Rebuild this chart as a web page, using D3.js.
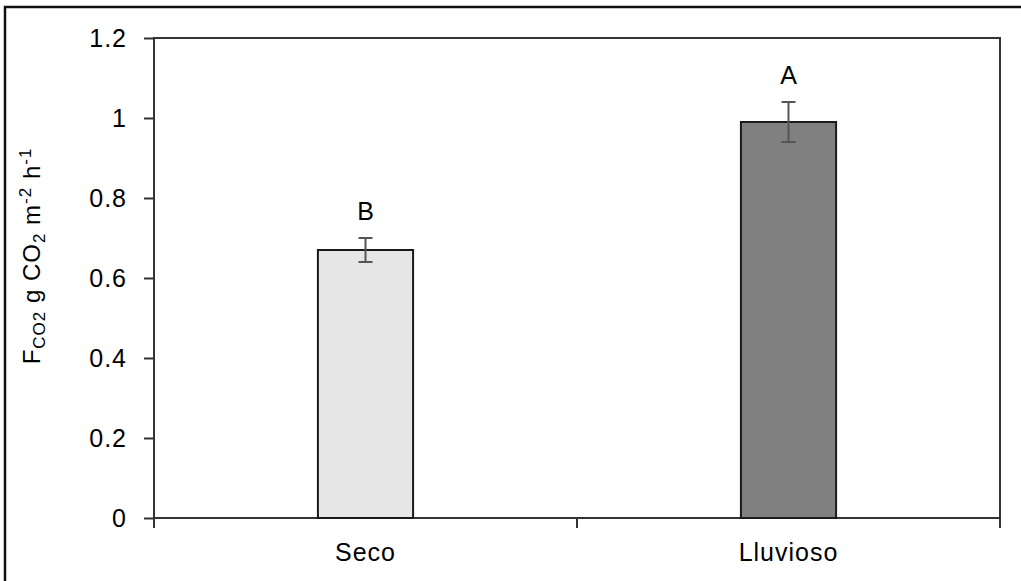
<!DOCTYPE html>
<html>
<head>
<meta charset="utf-8">
<script src="https://cdn.jsdelivr.net/npm/d3@7"></script>
<style>
  body { margin: 0; background: #fff; }
  text { font-family: "Liberation Sans", Arial, sans-serif; fill: #000; }
</style>
</head>
<body>
<div class="canvas"></div>
<script>
// data
const categories = ["Seco", "Lluvioso"];
const values = [0.67, 0.99];
const errors = [0.03, 0.05];
const letters = ["B", "A"];
const fills = ["#e6e6e6", "#808080"];
const yTicks = [0, 0.2, 0.4, 0.6, 0.8, 1, 1.2];

const width = 1021;
const height = 581;
const margin = { top: 38, right: 21, bottom: 63, left: 154 };
const graphWidth = width - margin.left - margin.right;
const graphHeight = height - margin.top - margin.bottom;

const svg = d3
  .select(".canvas")
  .append("svg")
  .attr("width", width)
  .attr("height", height);

// outer frame (only left and top visible)
svg.append("path")
  .attr("d", `M5,${height} V7 H${width}`)
  .attr("fill", "none")
  .attr("stroke", "#111")
  .attr("stroke-width", 2.5);

const graph = svg
  .append("g")
  .attr("transform", `translate(${margin.left}, ${margin.top})`);

//scales
const x = d3.scaleBand().domain(categories).range([0, graphWidth])
  .paddingInner(0.775).paddingOuter(0.3875);
const y = d3.scaleLinear().domain([0, 1.2]).range([graphHeight, 0]);

// plot box
graph.append("rect")
  .attr("width", graphWidth)
  .attr("height", graphHeight)
  .attr("fill", "none")
  .attr("stroke", "#333")
  .attr("stroke-width", 2);

// bars
graph.selectAll(".bar")
  .data(categories)
  .enter()
  .append("rect")
  .attr("class", "bar")
  .attr("x", d => x(d))
  .attr("y", (d, i) => y(values[i]))
  .attr("width", x.bandwidth())
  .attr("height", (d, i) => graphHeight - y(values[i]))
  .attr("fill", (d, i) => fills[i])
  .attr("stroke", "#1a1a1a")
  .attr("stroke-width", 2);

// error bars
const cap = 7;
categories.forEach((c, i) => {
  const cx = x(c) + x.bandwidth() / 2;
  const lo = y(values[i] - errors[i]);
  const hi = y(values[i] + errors[i]);
  graph.append("path")
    .attr("d", `M${cx},${lo} V${hi} M${cx - cap},${hi} H${cx + cap} M${cx - cap},${lo} H${cx + cap}`)
    .attr("fill", "none")
    .attr("stroke", "#555")
    .attr("stroke-width", 2);

  graph.append("text")
    .attr("x", cx)
    .attr("y", hi - 18)
    .attr("text-anchor", "middle")
    .attr("font-size", 25)
    .text(letters[i]);
});

// axes
const yAxis = d3.axisLeft(y).tickValues(yTicks).tickSize(10).tickPadding(17)
  .tickFormat(d => d3.format("")(+d.toFixed(1)));
const yAxisGroup = graph.append("g").call(yAxis);
yAxisGroup.select(".domain").remove();
yAxisGroup.selectAll("line").attr("stroke", "#333").attr("stroke-width", 2);
yAxisGroup.selectAll("text").attr("font-size", 25).attr("fill", "#000")
  .attr("letter-spacing", 1)
  .style("font-family", '"Liberation Sans", Arial, sans-serif');

// x ticks at band boundaries
const bounds = [0, graphWidth / 2, graphWidth];
graph.selectAll(".xtick")
  .data(bounds)
  .enter()
  .append("line")
  .attr("x1", d => d).attr("x2", d => d)
  .attr("y1", graphHeight).attr("y2", graphHeight + 10)
  .attr("stroke", "#333")
  .attr("stroke-width", 2);

graph.selectAll(".xlabel")
  .data(categories)
  .enter()
  .append("text")
  .attr("x", d => x(d) + x.bandwidth() / 2)
  .attr("y", graphHeight + 43)
  .attr("text-anchor", "middle")
  .attr("font-size", 25)
  .attr("letter-spacing", 1)
  .text(d => d);

// y label
const ylab = svg.append("text")
  .attr("transform", `translate(40, ${margin.top + graphHeight / 2 - 22}) rotate(-90)`)
  .attr("text-anchor", "middle")
  .attr("font-size", 24)
  .attr("letter-spacing", 1);
ylab.append("tspan").text("F");
ylab.append("tspan").attr("font-size", 17).attr("baseline-shift", "-5").text("CO2");
ylab.append("tspan").text(" g CO");
ylab.append("tspan").attr("font-size", 17).attr("baseline-shift", "-5").text("2");
ylab.append("tspan").text(" m");
ylab.append("tspan").attr("font-size", 17).attr("baseline-shift", "9").text("-2");
ylab.append("tspan").text(" h");
ylab.append("tspan").attr("font-size", 17).attr("baseline-shift", "9").text("-1");
</script>
</body>
</html>
